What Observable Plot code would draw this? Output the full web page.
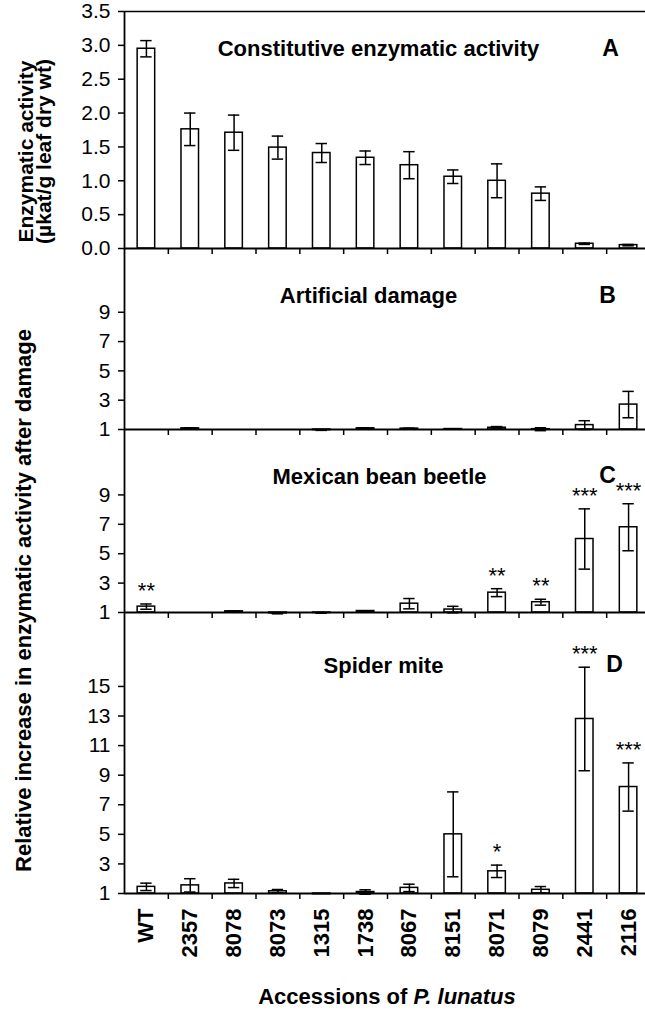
<!DOCTYPE html>
<html><head><meta charset="utf-8">
<script src="https://cdn.jsdelivr.net/npm/d3@7"></script>
<script src="https://cdn.jsdelivr.net/npm/@observablehq/plot@0.6"></script>
<style>
body{margin:0;background:#fff;overflow:hidden}
#chart{position:relative;width:645px;height:1013px;overflow:hidden;font-family:"Liberation Sans",Arial,sans-serif;background:#fff}
#chart svg{position:absolute;left:0}
#xtitle{position:absolute;left:0;width:774px;text-align:center;top:986px;font-size:22px;font-weight:bold;line-height:1;color:#000}
</style></head><body><div id="chart"><div id="xtitle">Accessions of <i>P. lunatus</i></div></div>
<script>
const accessions = ["WT","2357","8078","8073","1315","1738","8067","8151","8071","8079","2441","2116"];
const constitutive    = [2.95,1.76,1.71,1.49,1.41,1.34,1.23,1.06,1.00,0.81,0.07,0.05];
const constitutiveErr = [0.12,0.24,0.26,0.17,0.14,0.10,0.20,0.10,0.25,0.10,0.01,0.01];
const artificial      = [1.00,1.08,1.00,1.00,0.96,1.08,1.06,1.03,1.12,1.02,1.30,2.70];
const artificialErr   = [0,0.03,0,0,0.02,0.03,0.03,0.01,0.08,0.10,0.30,0.90];
const beetle          = [1.40,1.00,1.08,0.94,0.97,1.10,1.60,1.20,2.35,1.70,6.00,6.80];
const beetleErr       = [0.18,0,0.03,0.03,0.02,0.02,0.35,0.22,0.27,0.20,2.05,1.60];
const beetleSig       = ["**","","","","","","","","**","**","***","***"];
const mite            = [1.45,1.55,1.68,1.15,0.95,1.10,1.38,5.00,2.50,1.25,12.80,8.20];
const miteErr         = [0.25,0.45,0.28,0.12,0,0.15,0.25,2.87,0.42,0.22,3.50,1.63];
const miteSig         = ["","","","","","","","","*","","***","***"];
const ticksA = [0,0.5,1,1.5,2,2.5,3,3.5];
const ticksBC = [1,3,5,7,9];
const ticksD = [1,3,5,7,9,11,13,15];

const W = 660, ML = 124, MR = 10;
const FRAME_CX = (ML + W - MR) / 2;
const STEP = (W - ML - MR) / 12;
const STYLE = "font-family:'Liberation Sans',Arial,sans-serif;background:transparent;overflow:visible;max-width:none;position:absolute;left:0;";
// pixel -> x data value (layout helper for annotations outside the frame)
const xAt = p => (p - ML) / STEP;

function panel(cfg) {
  const rows = accessions.map((a, i) => ({a, i, v: cfg.values[i], e: cfg.errs[i], s: cfg.sig ? cfg.sig[i] : ""}));
  const withErr = rows.filter(d => d.e > 0);
  const marks = [];
  if (cfg.topLine) marks.push(Plot.ruleY([cfg.domain[1]], {strokeWidth: 1.6}));
  marks.push(
    Plot.rectY(rows, {x1: d => d.i + 0.3, x2: d => d.i + 0.7, y1: cfg.base, y2: "v", fill: "white", stroke: "black", strokeWidth: 1.5}),
    Plot.ruleX(withErr, {x: d => d.i + 0.5, y1: d => d.v - d.e, y2: d => d.v + d.e, strokeWidth: 1.5}),
    Plot.ruleY(withErr, {y: d => d.v + d.e, x1: d => d.i + 0.37, x2: d => d.i + 0.63, strokeWidth: 1.5}),
    Plot.ruleY(withErr, {y: d => d.v - d.e, x1: d => d.i + 0.37, x2: d => d.i + 0.63, strokeWidth: 1.5}),
    Plot.ruleX([0], {strokeWidth: 1.8}),
    Plot.ruleY([cfg.base], {strokeWidth: 1.8}),
    Plot.axisY(cfg.ticks, {anchor: "left", tickFormat: cfg.tickFormat, tickSize: 6, tickPadding: 8, fontSize: 21, strokeWidth: 1.5, label: null}),
    Plot.axisX(d3.range(1, 13), {anchor: "bottom", tickFormat: () => "", tickSize: 6, strokeWidth: 1.5, label: null}),
    Plot.text([cfg.title], {frameAnchor: "top", dx: cfg.titleX - FRAME_CX, dy: cfg.titleDy, lineAnchor: "bottom", fontSize: 22, fontWeight: "bold"}),
    Plot.text([cfg.letter], {frameAnchor: "top", dx: cfg.letterX - FRAME_CX, dy: cfg.letterDy, lineAnchor: "bottom", fontSize: 23, fontWeight: "bold"})
  );
  if (cfg.sig) marks.push(Plot.text(rows.filter(d => d.s), {x: d => d.i + 0.5, y: d => d.v + d.e, text: "s", lineAnchor: "bottom", dy: -6, fontSize: 22}));
  if (cfg.xLabels) marks.push(Plot.axisX(accessions.map((a, i) => i + 0.5), {anchor: "bottom", tickFormat: v => accessions[Math.floor(v)], tickSize: 0, tickPadding: 15, tickRotate: -90, fontSize: 22, fontWeight: "bold", label: null}));
  if (cfg.ylabels) for (const L of cfg.ylabels) {
    marks.push(Plot.text([L.text], {x: () => xAt(L.px), y: () => L.yv, rotate: -90, lineAnchor: "bottom", textAnchor: "middle", fontSize: L.size, fontWeight: "bold"}));
  }
  const el = Plot.plot({
    width: W, height: cfg.marginTop + cfg.frameH + cfg.marginBottom,
    marginLeft: ML, marginRight: MR, marginTop: cfg.marginTop, marginBottom: cfg.marginBottom,
    style: STYLE + "top:" + cfg.top + "px;",
    x: {type: "linear", domain: [0, 12]},
    y: {type: "linear", domain: cfg.domain},
    marks
  });
  document.getElementById("chart").appendChild(el);
}

// y value at an absolute pixel for a panel: linear map of frame
const yAt = (p, top, frameH, domain) => domain[0] + (top + frameH - p) / frameH * (domain[1] - domain[0]);

panel({values: constitutive, errs: constitutiveErr, base: 0, domain: [0, 3.5], ticks: ticksA, tickFormat: d3.format(".1f"),
  top: 0, marginTop: 11, frameH: 237, marginBottom: 10, topLine: true,
  title: "Constitutive enzymatic activity", titleX: 378, titleDy: 44, letter: "A", letterX: 610, letterDy: 44,
  ylabels: [
    {text: "Enzymatic activity", px: 32, yv: yAt(151, 11, 237, [0, 3.5]), size: 21},
    {text: "(µkat/g leaf dry wt)", px: 50, yv: yAt(151, 11, 237, [0, 3.5]), size: 21}
  ]});

panel({values: artificial, errs: artificialErr, base: 1, domain: [1, 13.35], ticks: ticksBC, tickFormat: d3.format("d"),
  top: 248, marginTop: 0, frameH: 181, marginBottom: 10,
  title: "Artificial damage", titleX: 368, titleDy: 54, letter: "B", letterX: 607, letterDy: 54});

panel({values: beetle, errs: beetleErr, sig: beetleSig, base: 1, domain: [1, 13.45], ticks: ticksBC, tickFormat: d3.format("d"),
  top: 429, marginTop: 0, frameH: 183, marginBottom: 10,
  title: "Mexican bean beetle", titleX: 379, titleDy: 54, letter: "C", letterX: 607, letterDy: 53,
  ylabels: [
    {text: "Relative increase in enzymatic activity after damage", px: 30, yv: yAt(600, 429, 183, [1, 13.45]), size: 22}
  ]});

panel({values: mite, errs: miteErr, sig: miteSig, base: 1, domain: [1, 20], ticks: ticksD, tickFormat: d3.format("d"),
  top: 612, marginTop: 0, frameH: 281, marginBottom: 80, xLabels: true,
  title: "Spider mite", titleX: 383, titleDy: 60, letter: "D", letterX: 614, letterDy: 59});
</script></body></html>
